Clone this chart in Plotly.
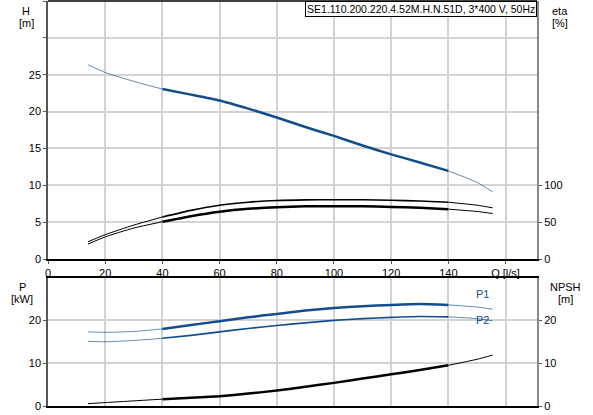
import plotly.graph_objects as go

# flow points [l/s]
q = [14, 20, 30, 40, 50, 60, 70, 80, 90, 100, 110, 120, 130, 140, 150, 155.5]

head = [26.35, 25.3, 24.1, 23.05, 22.3, 21.5, 20.4, 19.2, 17.9, 16.7,
        15.4, 14.2, 13.1, 11.95, 10.4, 9.1]
eta_upper = [23.4, 33, 46, 57, 66, 73, 77, 79.3, 80.2, 80.4,
             80.3, 79.7, 78.7, 77, 73, 69.4]
eta_lower = [20.3, 30, 42, 50.5, 58, 64, 68, 70.3, 71.4, 71.6,
             71.4, 70.7, 69.5, 67.6, 64.5, 61.7]
p1 = [17.3, 17.2, 17.4, 18.0, 18.9, 19.8, 20.7, 21.5, 22.3, 22.9,
      23.3, 23.6, 23.8, 23.6, 23.1, 22.6]
p2 = [15.1, 15.0, 15.3, 15.8, 16.5, 17.3, 18.1, 18.8, 19.4, 20.0,
      20.4, 20.7, 20.9, 20.8, 20.4, 19.9]
npsh = [0.55, 0.8, 1.2, 1.6, 1.9, 2.3, 2.9, 3.6, 4.5, 5.4,
        6.4, 7.4, 8.4, 9.5, 10.9, 11.9]

title_text = "SE1.110.200.220.4.52M.H.N.51D, 3*400 V, 50Hz"
x_ticks = [0, 20, 40, 60, 80, 100, 120, 140, 160]
x_labels = ["0", "20", "40", "60", "80", "100", "120", "140", "Q [l/s]"]

BLUE = "#134d8c"
BLUE_THIN = "rgba(19,77,140,0.65)"
BLACK = "#000000"
GRID = "#d3d3d3"
FONT = "Liberation Sans, Arial, sans-serif"
FS = 11

W, H = 593, 415
L, R, T, B = 48, 56, 1, 9
PW, PH = W - L - R, H - T - B


def px_x(px):
    return (px - L) / PW


def px_y(py):
    return (H - B - py) / PH


def add_curve(fig, y, color, thin_color, thick_w, xaxis, yaxis, thin_w=1.0):
    """thin outside 40..140 l/s, thick inside"""
    i0, i1 = q.index(40), q.index(140)
    parts = [
        (q[: i0 + 1], y[: i0 + 1], thin_color, thin_w),
        (q[i0: i1 + 1], y[i0: i1 + 1], color, thick_w),
        (q[i1:], y[i1:], thin_color, thin_w),
    ]
    for xs, ys, c, w in parts:
        fig.add_trace(
            go.Scatter(
                x=xs, y=ys, mode="lines",
                line=dict(color=c, width=w, shape="spline", smoothing=0.6),
                xaxis=xaxis, yaxis=yaxis, showlegend=False, hoverinfo="x+y",
            )
        )


fig = go.Figure()

add_curve(fig, head, BLUE, BLUE_THIN, 2.5, "x", "y")
add_curve(fig, eta_upper, BLACK, BLACK, 1.6, "x", "y2", thin_w=1.0)
add_curve(fig, eta_lower, BLACK, BLACK, 2.5, "x", "y2", thin_w=1.0)
add_curve(fig, p1, BLUE, BLUE_THIN, 2.5, "x2", "y3")
add_curve(fig, p2, BLUE, BLUE_THIN, 1.6, "x2", "y3")
add_curve(fig, npsh, BLACK, BLACK, 2.5, "x2", "y4", thin_w=1.0)

top_dom = [px_y(259), 1]
bot_dom = [0, px_y(277.5)]

axis_common = dict(
    showgrid=True, gridcolor=GRID, gridwidth=1.5, zeroline=False,
    ticks="outside", ticklen=3, tickcolor="#555555",
    tickfont=dict(family=FONT, size=FS, color="#000000"),
    fixedrange=True, automargin=False,
)

fig.update_layout(
    width=W, height=H,
    margin=dict(l=L, r=R, t=T, b=B, autoexpand=False),
    plot_bgcolor="white", paper_bgcolor="white",
    font=dict(family=FONT, size=FS, color="#000000"),
    showlegend=False,
    xaxis=dict(
        axis_common, domain=[0, 1], range=[0, 171], anchor="y",
        tickvals=x_ticks, ticktext=x_labels,
        showline=True, linecolor="#000000", linewidth=1.5, mirror=False,
    ),
    yaxis=dict(
        axis_common, domain=top_dom, range=[0, 35], anchor="x",
        tickvals=[0, 5, 10, 15, 20, 25, 30, 35],
        ticktext=["0", "5", "10", "15", "20", "25", "", ""],
        showline=True, linecolor="#555555", linewidth=1.5,
    ),
    yaxis2=dict(
        axis_common, overlaying="y", side="right", range=[0, 350],
        anchor="x", showgrid=False, tickvals=[0, 50, 100],
        showline=True, linecolor="#888888", linewidth=2,
    ),
    xaxis2=dict(
        axis_common, domain=[0, 1], range=[0, 171], anchor="y3",
        tickvals=x_ticks, showticklabels=False, ticks="",
        showline=True, linecolor="#000000", linewidth=1.5, mirror=True,
    ),
    yaxis3=dict(
        axis_common, domain=bot_dom, range=[0, 30], anchor="x2",
        tickvals=[0, 10, 20],
        showline=True, linecolor="#555555", linewidth=1.5,
    ),
    yaxis4=dict(
        axis_common, overlaying="y3", side="right", range=[0, 30],
        anchor="x2", showgrid=False, tickvals=[0, 10, 20],
        showline=True, linecolor="#888888", linewidth=2,
    ),
)

# top border of the upper plot
fig.add_shape(type="line", xref="paper", yref="paper", x0=0, x1=1, y0=1, y1=1,
              line=dict(color="#000000", width=1.5))

annots = [
    (26, 11, "H"), (26, 23, "[m]"),
    (560, 11, "eta"), (560, 23, "[%]"),
    (22, 287, "P"), (22, 299, "[kW]"),
    (565, 287, "NPSH"), (565, 299, "[m]"),
]
for ax, ay, txt in annots:
    fig.add_annotation(x=px_x(ax), y=px_y(ay), xref="paper", yref="paper",
                       text=txt, showarrow=False, xanchor="center",
                       yanchor="middle", font=dict(size=FS, family=FONT))

fig.add_annotation(x=px_x(491), y=px_y(302), xref="paper", yref="paper",
                   text="P1", showarrow=False, font=dict(size=FS, color=BLUE))
fig.add_annotation(x=px_x(491), y=px_y(328), xref="paper", yref="paper",
                   text="P2", showarrow=False, font=dict(size=FS, color=BLUE))

fig.add_annotation(
    x=1, y=1, xref="paper", yref="paper", xanchor="right", yanchor="top",
    text=title_text, showarrow=False, bgcolor="white",
    bordercolor="#000000", borderwidth=1, borderpad=1,
    font=dict(size=10.5, family=FONT),
)

# the page's default body margin would shift the figure by 8 px
fig.write_html(
    "out.html",
    config={"displayModeBar": False},
    post_script="document.body.style.margin='0';",
)
